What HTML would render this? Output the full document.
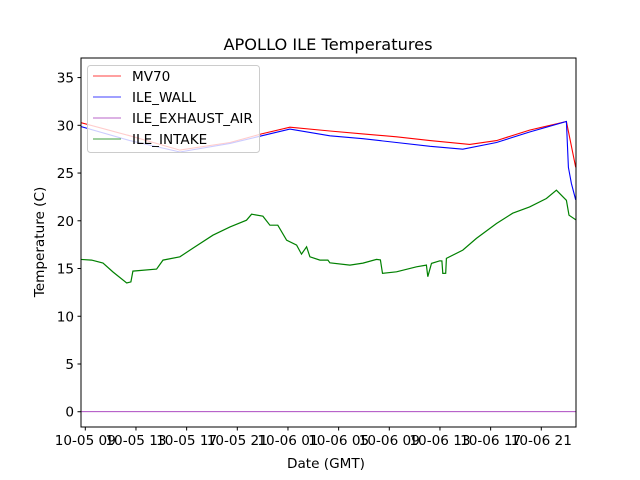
<!DOCTYPE html>
<html><head><meta charset="utf-8"><style>
body{margin:0;background:#fff}
svg{display:block;font-family:"DejaVu Sans","Liberation Sans",sans-serif}
</style></head><body>
<svg id="chart" width="640" height="480">
<rect width="640" height="480" fill="#fff"/>
<text x="328" y="50" font-size="16.2" text-anchor="middle">APOLLO ILE Temperatures</text>
<g id="plot"></g>
<g id="axes"></g>
<text x="326" y="468" font-size="13.6" text-anchor="middle">Date (GMT)</text>
<text transform="translate(44,242) rotate(-90)" font-size="13.6" text-anchor="middle">Temperature (C)</text>
<g id="legend"></g>
</svg>
<script>
// hours since 10-05 00:00 GMT
const mvTimes=[8.58,12.53,16.47,20.42,22.92,25.15,28.31,30.92,33.57,36.22,39.35,41.46,44.08,46.98,47.72];
const mvTemps=[30.3,28.9,27.4,28.2,29.1,29.8,29.4,29.1,28.8,28.4,28.0,28.4,29.5,30.4,25.6];
const wallTimes=[8.58,12.53,16.47,20.42,22.92,25.15,28.31,30.92,33.57,36.22,38.80,41.46,44.08,46.98,47.14,47.38,47.72];
const wallTemps=[29.9,28.4,27.2,28.1,28.9,29.6,28.9,28.6,28.2,27.8,27.5,28.2,29.3,30.4,25.6,23.9,22.2];
const exhaustTimes=[8.58,47.77];
const exhaustTemps=[0,0];
const intakeTimes=[8.58,9.50,10.40,11.19,12.27,12.60,12.76,14.63,15.13,16.47,17.50,19.07,20.42,21.73,22.13,23.02,23.57,24.20,24.89,25.68,26.07,26.47,26.73,27.52,28.15,28.31,29.89,30.92,31.99,32.30,32.46,33.57,35.15,35.93,36.04,36.33,36.99,37.15,37.22,37.45,37.51,38.80,39.88,41.46,42.74,44.08,45.40,46.19,46.98,47.19,47.77];
const intakeTemps=[15.95,15.88,15.57,14.63,13.48,13.6,14.73,14.94,15.88,16.23,17.14,18.49,19.36,20.06,20.69,20.48,19.54,19.54,17.97,17.45,16.51,17.27,16.23,15.88,15.88,15.60,15.36,15.57,15.95,15.9,14.49,14.66,15.18,15.36,14.14,15.54,15.81,15.8,14.49,14.5,16.06,16.93,18.15,19.72,20.79,21.45,22.33,23.20,22.15,20.58,20.06];
const yTicks=[0,5,10,15,20,25,30,35];
const xTickHours=[9,13,17,21,25,29,33,37,41,45];
const xTickLabels=["10-05 09","10-05 13","10-05 17","10-05 21","10-06 01","10-06 05","10-06 09","10-06 13","10-06 17","10-06 21"];

const L=81,R=576,T=58,B=427;
const xMin=8.66,xMax=47.74,yMin=-1.6,yMax=37.05;
const sx=h=>L+(h-xMin)/(xMax-xMin)*(R-L);
const sy=v=>B-(v-yMin)/(yMax-yMin)*(B-T);
const NS="http://www.w3.org/2000/svg";
function mk(tag,attrs,parent){const e=document.createElementNS(NS,tag);for(const k in attrs)e.setAttribute(k,attrs[k]);parent.appendChild(e);return e;}
const plot=document.getElementById('plot'),axes=document.getElementById('axes'),leg=document.getElementById('legend');

const clip=mk('clipPath',{id:'clp'},plot);
mk('rect',{x:L,y:T,width:R-L,height:B-T},clip);
function line(ts,vs,color,name,w){
  const d=ts.map((t,i)=>(i?'L':'M')+sx(t).toFixed(1)+','+sy(vs[i]).toFixed(1)).join('');
  const p=mk('path',{d:d,fill:'none',stroke:color,'stroke-width':w,'clip-path':'url(#clp)'},plot);
  
  
}
line(exhaustTimes,exhaustTemps,'#a030b8','ile-exhaust-air-line',0.8);
line(intakeTimes,intakeTemps,'#008000','ile-intake-line',1.2);
line(mvTimes,mvTemps,'#ff0000','mv70-line',1.1);
line(wallTimes,wallTemps,'#0000ff','ile-wall-line',1.1);

const fr=mk('rect',{x:L,y:T,width:R-L,height:B-T,fill:'none',stroke:'#000','stroke-width':1},axes);


yTicks.forEach(v=>{
  const y=sy(v);
  const tk=mk('line',{x1:L-3.5,x2:L,y1:y,y2:y,stroke:'#000'},axes);
  
  
  const tx=mk('text',{x:L-7,y:y+5,'font-size':13.6,'text-anchor':'end'},axes);
  tx.textContent=v;
  
  
});
xTickHours.forEach((h,i)=>{
  const x=sx(h);
  const tk=mk('line',{x1:x,x2:x,y1:B,y2:B+3.5,stroke:'#000'},axes);
  
  
  const tx=mk('text',{x:x,y:B+18,'font-size':13.6,'text-anchor':'middle'},axes);
  tx.textContent=xTickLabels[i];
  
  
});

const lb=mk('rect',{x:87.5,y:65.5,width:172,height:87,rx:3,fill:'#fff','fill-opacity':0.8,stroke:'#ccc'},leg);


const entries=[['MV70','#ff0000'],['ILE_WALL','#0000ff'],['ILE_EXHAUST_AIR','#a030b8'],['ILE_INTAKE','#008000']];
entries.forEach((e,i)=>{
  const y=76+i*21;
  const ln=mk('line',{x1:93,x2:121,y1:y,y2:y,stroke:e[1],'stroke-width':0.8},leg);
  
  
  const tx=mk('text',{x:132,y:y+5,'font-size':13.6},leg);
  tx.textContent=e[0];
  
  
});
</script>
</body></html>
